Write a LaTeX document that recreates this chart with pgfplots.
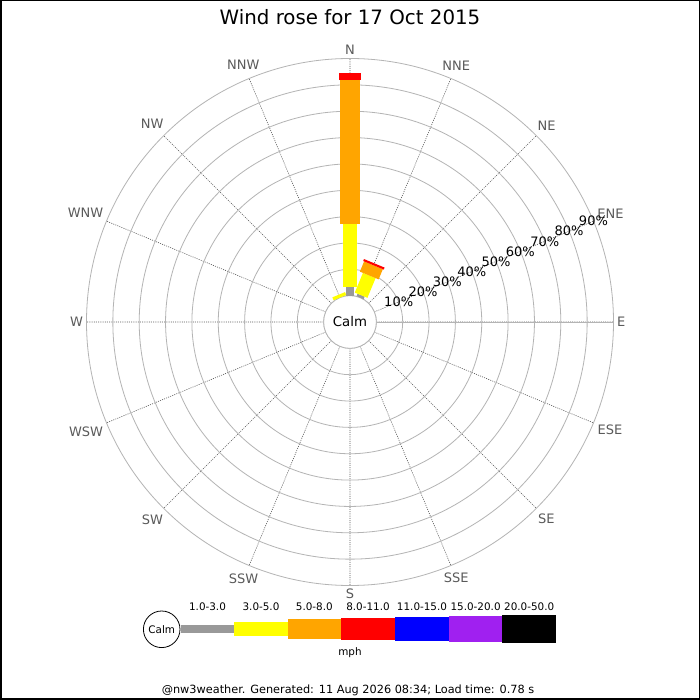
\documentclass[border=0pt]{standalone}
\usepackage{fontspec}
\setmainfont{DejaVu Sans}
\usepackage{pgfplots}
\pgfplotsset{compat=1.18}
\usepgfplotslibrary{polar}
\definecolor{wgray}{HTML}{999999}
\definecolor{wyellow}{HTML}{FFFF00}
\definecolor{worange}{HTML}{FFA500}
\definecolor{wred}{HTML}{FF0000}
\definecolor{wblue}{HTML}{0000FF}
\definecolor{wpurple}{HTML}{A020F0}
\definecolor{ringc}{HTML}{B4B4B4}
\definecolor{spokec}{HTML}{555555}
\definecolor{labc}{HTML}{5A5A5A}
\begin{document}
\begin{tikzpicture}
\useasboundingbox (0pt,0pt) rectangle (700pt,700pt);
\fill[white] (0pt,0pt) rectangle (700pt,700pt);
\begin{polaraxis}[
  at={(350pt,378pt)}, anchor=center,
  scale only axis, width=527pt, height=527pt,
  ymin=0, ymax=100, xmin=0, xmax=360,
  xtick={0,22.5,45,67.5,90,112.5,135,157.5,180,202.5,225,247.5,270,292.5,315,337.5},
  xticklabels={E,ENE,NE,NNE,N,NNW,NW,WNW,W,WSW,SW,SSW,S,SSE,SE,ESE},
  ytick={10,20,30,40,50,60,70,80,90},
  yticklabels={},
  xmajorgrids, ymajorgrids,
  major tick length=0pt,
  x grid style={spokec, line width=0.6pt, dash pattern=on 1pt off 1.2pt},
  y grid style={ringc, line width=0.8pt},
  axis line style={ringc, line width=0.8pt},
  xticklabel style={font=\fontsize{13}{15}\selectfont, text=labc},
  y filter/.expression={y+10},
  clip=false,
]
\draw[ringc, line width=0.8pt, fill=white] (axis cs:0,0) circle[radius=26.35pt];
% N (90 deg)
\addplot[no marks, draw=wgray, line width=7.7pt] coordinates {(90,0) (90,3.4)};
\addplot[no marks, draw=wyellow, line width=13.7pt] coordinates {(90,3.4) (90,27.2)};
\addplot[no marks, draw=worange, line width=20.3pt] coordinates {(90,27.2) (90,81.8)};
\addplot[no marks, draw=wred, line width=22.3pt] coordinates {(90,81.8) (90,84.4)};
% NNE (67.5 deg)
\addplot[no marks, draw=wgray, line width=7.7pt] coordinates {(67.5,0) (67.5,1.0)};
\addplot[no marks, draw=wyellow, line width=13.7pt] coordinates {(67.5,1.0) (67.5,9.1)};
\addplot[no marks, draw=worange, line width=20.3pt] coordinates {(67.5,9.1) (67.5,13.3)};
\addplot[no marks, draw=wred, line width=22.3pt] coordinates {(67.5,13.3) (67.5,14.1)};
% NNW (112.5 deg)
\addplot[no marks, draw=wyellow, line width=13.7pt] coordinates {(112.5,0) (112.5,1.2)};
\node[font=\fontsize{13.3}{15}\selectfont] at (axis cs:0,0) {Calm};
\node[font=\fontsize{13}{15}\selectfont] at (axis cs:22.5,20) {10\%};
\node[font=\fontsize{13}{15}\selectfont] at (axis cs:22.5,30) {20\%};
\node[font=\fontsize{13}{15}\selectfont] at (axis cs:22.5,40) {30\%};
\node[font=\fontsize{13}{15}\selectfont] at (axis cs:22.5,50) {40\%};
\node[font=\fontsize{13}{15}\selectfont] at (axis cs:22.5,60) {50\%};
\node[font=\fontsize{13}{15}\selectfont] at (axis cs:22.5,70) {60\%};
\node[font=\fontsize{13}{15}\selectfont] at (axis cs:22.5,80) {70\%};
\node[font=\fontsize{13}{15}\selectfont] at (axis cs:22.5,90) {80\%};
\node[font=\fontsize{13}{15}\selectfont] at (axis cs:22.5,100) {90\%};
\end{polaraxis}
% title
\node[anchor=base, font=\fontsize{19.8}{22}\selectfont] at (350pt,675pt) {Wind rose for 17 Oct 2015};
% legend
\draw[black, line width=0.8pt, fill=white] (161.7pt,70.7pt) circle[radius=18.3pt];
\node[font=\fontsize{10.4}{12}\selectfont] at (161.7pt,70.7pt) {Calm};
\fill[wgray] (180.7pt,67.3pt) rectangle (234.3pt,75pt);
\fill[wyellow] (234.3pt,64pt) rectangle (287.7pt,77.7pt);
\fill[worange] (287.7pt,60.7pt) rectangle (341pt,81pt);
\fill[wred] (341pt,60pt) rectangle (395pt,82.3pt);
\fill[wblue] (395pt,59pt) rectangle (449pt,83pt);
\fill[wpurple] (449pt,57.7pt) rectangle (502.3pt,84pt);
\fill[black] (502.3pt,56.7pt) rectangle (556pt,85pt);
\begin{scope}[every node/.style={anchor=base, font=\fontsize{10.4}{12}\selectfont}]
\node at (207.5pt,89pt) {1.0-3.0};
\node at (261pt,89pt) {3.0-5.0};
\node at (314.3pt,89pt) {5.0-8.0};
\node at (368pt,89pt) {8.0-11.0};
\node at (422pt,89pt) {11.0-15.0};
\node at (475.6pt,89pt) {15.0-20.0};
\node at (529.2pt,89pt) {20.0-50.0};
\node at (350pt,44.3pt) {mph};
\end{scope}
\node[anchor=base, font=\fontsize{11.3}{13}\selectfont] at (348pt,6pt) {@nw3weather. Generated: 11 Aug 2026 08:34; Load time: 0.78 s};
\draw[black, line width=3pt] (0pt,0pt) rectangle (700pt,700pt);
\end{tikzpicture}
\end{document}
